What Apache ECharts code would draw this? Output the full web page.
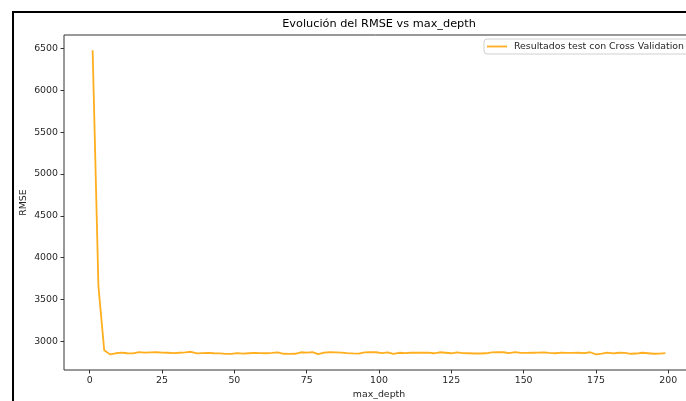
<!DOCTYPE html>
<html>
<head>
<meta charset="utf-8">
<script src="https://cdn.jsdelivr.net/npm/echarts@6/dist/echarts.min.js"></script>
<style>html,body{margin:0;padding:0;background:#fff}#c{width:686px;height:401px}</style>
</head>
<body>
<div id="c"></div>
<script>
const maxDepth = [];
for (let d = 1; d <= 199; d += 2) maxDepth.push(d);
const rmse = [
6480,3660,2895,2845,2858,2865,2858,2856,2872,2866,
2868,2870,2866,2864,2860,2864,2868,2876,2856,2860,
2862,2858,2856,2850,2850,2860,2854,2858,2862,2860,
2858,2862,2868,2852,2850,2852,2870,2866,2872,2848,
2866,2870,2868,2866,2860,2856,2854,2868,2872,2870,
2860,2868,2850,2864,2860,2864,2866,2864,2866,2858,
2870,2864,2858,2868,2860,2858,2855,2855,2858,2868,
2872,2870,2860,2872,2862,2862,2864,2866,2868,2862,
2858,2866,2862,2862,2864,2860,2870,2845,2855,2866,
2856,2864,2862,2852,2855,2864,2858,2852,2854,2860
];
const xTicks = [0,25,50,75,100,125,150,175,200];
const yTicks = [3000,3500,4000,4500,5000,5500,6000,6500];
const seriesName = 'Resultados test con Cross Validation';
const titleText = 'Evolución del RMSE vs max_depth';

const font = 'DejaVu Sans';
const fs = 9.4;
const txt = '#262626';
const chart = echarts.init(document.getElementById('c'), null, {renderer:'canvas'});
chart.setOption({
  animation:false,
  backgroundColor:'#fff',
  textStyle:{fontFamily:font},
  title:{text:titleText,left:379,top:19,textAlign:'center',padding:0,
    textStyle:{fontFamily:font,fontSize:11.3,fontWeight:'normal',color:'#000'}},
  legend:{data:[{name:seriesName}],left:484,top:39,orient:'vertical',
    backgroundColor:'#fff',borderColor:'#d0d0d0',borderWidth:1,borderRadius:3,
    padding:[3,8,3,3],itemWidth:20,itemHeight:1.8,icon:'rect',itemGap:6,
    textStyle:{fontFamily:font,fontSize:fs,color:txt,padding:[1,0,0,2]}},
  grid:{left:64,top:35,width:630,height:335,show:true,borderColor:'#333',borderWidth:1,
    containLabel:false,outerBoundsMode:'none'},
  xAxis:{type:'value',min:-8.9,max:208.9,name:'max_depth',nameLocation:'middle',nameGap:20,
    nameMoveOverlap:false,
    nameTextStyle:{fontFamily:font,fontSize:fs,color:txt},
    axisLine:{show:false,onZero:false},splitLine:{show:false},
    axisTick:{show:true,length:3.5,lineStyle:{color:'#333'},customValues:xTicks},
    axisLabel:{fontFamily:font,fontSize:fs,color:txt,margin:6,customValues:xTicks,
      formatter:v=>String(v)}},
  yAxis:{type:'value',min:2658,max:6662,name:'RMSE',nameLocation:'middle',nameGap:36,
    nameMoveOverlap:false,
    nameTextStyle:{fontFamily:font,fontSize:fs,color:txt},
    axisLine:{show:false,onZero:false},splitLine:{show:false},
    axisTick:{show:true,length:3.5,lineStyle:{color:'#333'},customValues:yTicks},
    axisLabel:{fontFamily:font,fontSize:fs,color:txt,margin:6,customValues:yTicks,
      formatter:v=>String(v)}},
  series:[{type:'line',name:seriesName,data:maxDepth.map((d,i)=>[d,rmse[i]]),
    symbol:'none',lineStyle:{color:'#FFAE1F',width:1.8},itemStyle:{color:'#FFAE1F'}}],
  graphic:[{type:'rect',shape:{x:13,y:12,width:720,height:420},
    style:{fill:null,stroke:'#000',lineWidth:2},z:100}]
});
</script>
</body>
</html>
